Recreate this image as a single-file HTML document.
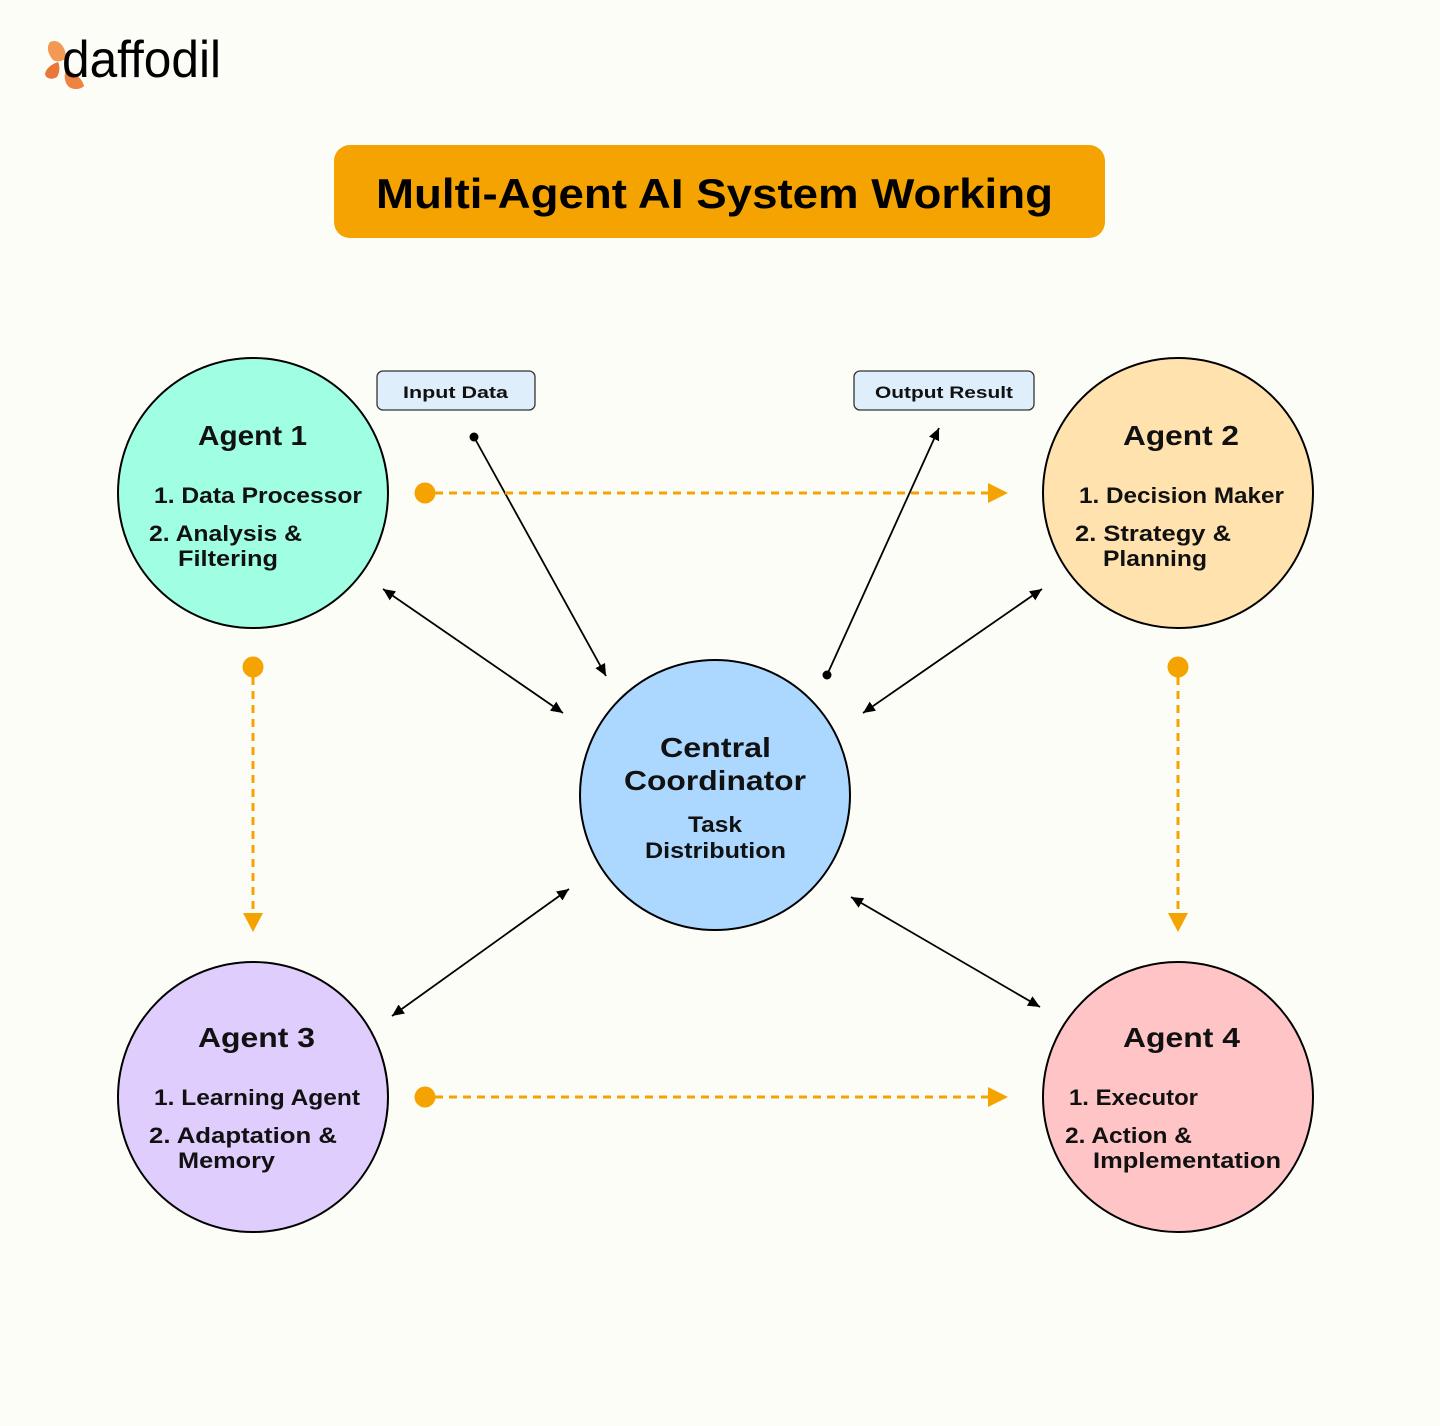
<!DOCTYPE html>
<html>
<head>
<meta charset="utf-8">
<style>
  html, body { margin:0; padding:0; background:#fdfdf8; }
  body { width:1440px; height:1426px; overflow:hidden; }
  svg { display:block; }
  text { font-family: "Liberation Sans", "DejaVu Sans", sans-serif; fill:#111; }
</style>
</head>
<body>
<svg width="1440" height="1426" viewBox="0 0 1440 1426" xmlns="http://www.w3.org/2000/svg">
  <defs>
    <marker id="ah" markerUnits="userSpaceOnUse" markerWidth="14" markerHeight="12" refX="12" refY="6" orient="auto-start-reverse">
      <path d="M0,0.5 L12,6 L0,11.5 Z" fill="#000"/>
    </marker>
  </defs>
  <rect width="1440" height="1426" fill="#fdfdf8"/>

  <!-- Logo -->
  <g>
    <path d="M50,42 C58,38 66,46 66,58 C62,62 56,62 53,60 C48,54 46,47 50,42 Z" fill="#f29a55"/>
    <path d="M58,62 C52,64 46,68 45,74 C46,79 52,80 57,77 C60,72 60,66 58,62 Z" fill="#e9773a"/>
    <path d="M66,70 C74,72 82,78 84,86 C80,90 72,90 68,86 C64,81 64,75 66,70 Z" fill="#ee8440"/>
    <text x="62" y="77" font-size="52" font-weight="400" textLength="159" lengthAdjust="spacingAndGlyphs" style="fill:#000">daffodil</text>
  </g>

  <!-- Title -->
  <rect x="334" y="145" width="771" height="93" rx="16" fill="#f5a300"/>
  <text x="376" y="208" font-size="42" font-weight="700" textLength="677" lengthAdjust="spacingAndGlyphs" style="fill:#000">Multi-Agent AI System Working</text>

  <!-- Input / Output boxes -->
  <rect x="377" y="371" width="158" height="39" rx="6" fill="#deeefa" stroke="#333" stroke-width="1.3"/>
  <text x="403" y="398" font-size="17" font-weight="700" textLength="105" lengthAdjust="spacingAndGlyphs">Input Data</text>
  <rect x="854" y="371" width="180" height="39" rx="6" fill="#deeefa" stroke="#333" stroke-width="1.3"/>
  <text x="875" y="398" font-size="17" font-weight="700" textLength="138" lengthAdjust="spacingAndGlyphs">Output Result</text>

  <!-- Circles -->
  <circle cx="253" cy="493" r="135" fill="#a0ffe3" stroke="#000" stroke-width="2"/>
  <circle cx="1178" cy="493" r="135" fill="#ffe2ae" stroke="#000" stroke-width="2"/>
  <circle cx="253" cy="1097" r="135" fill="#dfcdfd" stroke="#000" stroke-width="2"/>
  <circle cx="1178" cy="1097" r="135" fill="#ffc4c6" stroke="#000" stroke-width="2"/>
  <circle cx="715" cy="795" r="135" fill="#acd8ff" stroke="#000" stroke-width="2"/>

  <!-- Black connectors -->
  <g stroke="#000" stroke-width="1.8" fill="none">
    <line x1="383" y1="589" x2="563" y2="713" marker-start="url(#ah)" marker-end="url(#ah)"/>
    <line x1="1042" y1="589" x2="863" y2="713" marker-start="url(#ah)" marker-end="url(#ah)"/>
    <line x1="392" y1="1016" x2="569" y2="889" marker-start="url(#ah)" marker-end="url(#ah)"/>
    <line x1="851" y1="897" x2="1040" y2="1007" marker-start="url(#ah)" marker-end="url(#ah)"/>
    <line x1="474" y1="437" x2="606" y2="676" marker-end="url(#ah)"/>
    <line x1="827" y1="675" x2="939" y2="428" marker-end="url(#ah)"/>
  </g>
  <circle cx="474" cy="437" r="4.5" fill="#000"/>
  <circle cx="827" cy="675" r="4.5" fill="#000"/>

  <!-- Orange dashed connectors -->
  <g stroke="#f5a300" stroke-width="3" stroke-dasharray="8 6" fill="none">
    <line x1="435" y1="493" x2="990" y2="493"/>
    <line x1="435" y1="1097" x2="990" y2="1097"/>
    <line x1="253" y1="677" x2="253" y2="915"/>
    <line x1="1178" y1="677" x2="1178" y2="915"/>
  </g>
  <g fill="#f5a300">
    <circle cx="425" cy="493" r="10.5"/>
    <circle cx="425" cy="1097" r="10.5"/>
    <circle cx="253" cy="667" r="10.5"/>
    <circle cx="1178" cy="667" r="10.5"/>
    <path d="M988,483 L1008,493 L988,503 Z"/>
    <path d="M988,1087 L1008,1097 L988,1107 Z"/>
    <path d="M243,913 L263,913 L253,932 Z"/>
    <path d="M1168,913 L1188,913 L1178,932 Z"/>
  </g>

  <!-- Agent 1 text -->
  <g font-weight="700">
    <text x="198" y="445" font-size="28" textLength="109" lengthAdjust="spacingAndGlyphs">Agent 1</text>
    <text x="154" y="503" font-size="22" textLength="208" lengthAdjust="spacingAndGlyphs">1. Data Processor</text>
    <text x="149" y="541" font-size="22" textLength="153" lengthAdjust="spacingAndGlyphs">2. Analysis &amp;</text>
    <text x="178" y="566" font-size="22" textLength="100" lengthAdjust="spacingAndGlyphs">Filtering</text>

    <!-- Agent 2 -->
    <text x="1123" y="445" font-size="28" textLength="116" lengthAdjust="spacingAndGlyphs">Agent 2</text>
    <text x="1079" y="503" font-size="22" textLength="205" lengthAdjust="spacingAndGlyphs">1. Decision Maker</text>
    <text x="1075" y="541" font-size="22" textLength="156" lengthAdjust="spacingAndGlyphs">2. Strategy &amp;</text>
    <text x="1103" y="566" font-size="22" textLength="104" lengthAdjust="spacingAndGlyphs">Planning</text>

    <!-- Agent 3 -->
    <text x="198" y="1047" font-size="28" textLength="117" lengthAdjust="spacingAndGlyphs">Agent 3</text>
    <text x="154" y="1105" font-size="22" textLength="206" lengthAdjust="spacingAndGlyphs">1. Learning Agent</text>
    <text x="149" y="1143" font-size="22" textLength="188" lengthAdjust="spacingAndGlyphs">2. Adaptation &amp;</text>
    <text x="178" y="1168" font-size="22" textLength="97" lengthAdjust="spacingAndGlyphs">Memory</text>

    <!-- Agent 4 -->
    <text x="1123" y="1047" font-size="28" textLength="117" lengthAdjust="spacingAndGlyphs">Agent 4</text>
    <text x="1069" y="1105" font-size="22" textLength="129" lengthAdjust="spacingAndGlyphs">1. Executor</text>
    <text x="1065" y="1143" font-size="22" textLength="127" lengthAdjust="spacingAndGlyphs">2. Action &amp;</text>
    <text x="1093" y="1168" font-size="22" textLength="188" lengthAdjust="spacingAndGlyphs">Implementation</text>

    <!-- Central -->
    <text x="660" y="757" font-size="28" textLength="111" lengthAdjust="spacingAndGlyphs">Central</text>
    <text x="624" y="790" font-size="28" textLength="182" lengthAdjust="spacingAndGlyphs">Coordinator</text>
    <text x="688" y="832" font-size="22" textLength="54" lengthAdjust="spacingAndGlyphs">Task</text>
    <text x="645" y="858" font-size="22" textLength="141" lengthAdjust="spacingAndGlyphs">Distribution</text>
  </g>
</svg>
</body>
</html>
